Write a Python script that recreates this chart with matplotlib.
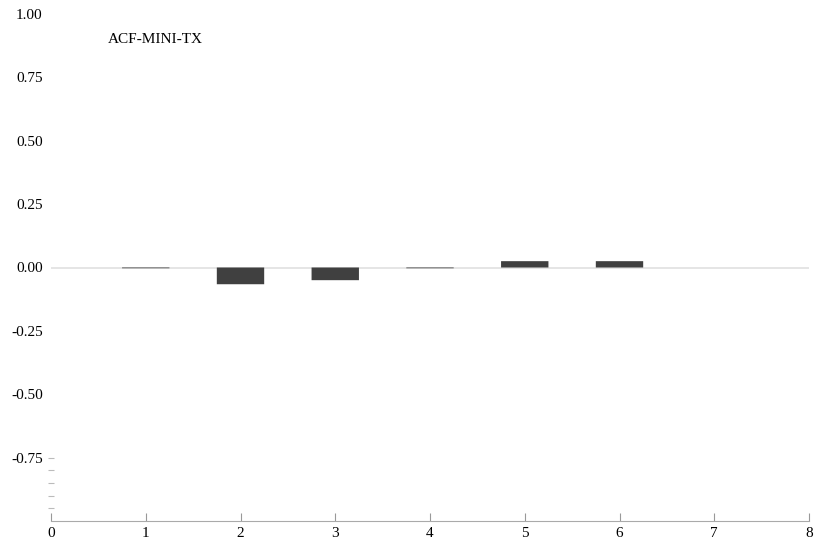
import numpy as np
import matplotlib.pyplot as plt

# ============================== DATA ==============================
lags = [1, 2, 3, 4, 5, 6, 7]
acf = [-0.003, -0.066, -0.050, -0.003, 0.025, 0.025, 0.0]
title = 'ACF-MINI-TX'
yticks = [1.0, 0.75, 0.5, 0.25, 0.0, -0.25, -0.5, -0.75]
yminor = [-0.75, -0.8, -0.85, -0.9, -0.95]
xticks = [0, 1, 2, 3, 4, 5, 6, 7, 8]

# ============================== PLOT ==============================
plt.rcParams['font.family'] = ['Liberation Serif', 'DejaVu Serif']
plt.rcParams['font.size'] = 11

fig = plt.figure(figsize=(8.14, 5.43), dpi=100)
ax = fig.add_axes([51/814, 22/543, 758/814, 507/543])

ax.axhline(0, color='#e0e0e0', lw=1.2, zorder=1)
ax.bar(lags, acf, width=0.5, color='#404040', zorder=2, snap=False)

ax.set_xlim(0, 8)
ax.set_ylim(-1, 1)

for s in ['top', 'right', 'left']:
    ax.spines[s].set_visible(False)
ax.spines['bottom'].set_color('#aaaaaa')

ax.set_xticks(xticks)
ax.set_xticklabels([str(t) for t in xticks])
ax.tick_params(axis='x', direction='in', length=6, color='#999999', pad=4)
ax.xaxis.get_major_ticks()[0].tick1line.set_color('black')

ax.yaxis.remove_overlapping_locs = False
ax.set_yticks(yticks)
ax.set_yticklabels(['%.2f' % t for t in yticks])
ax.tick_params(axis='y', length=0, pad=6)
ax.set_yticks(yminor, minor=True)
ax.tick_params(axis='y', which='minor', direction='inout', length=4, color='#bbbbbb', width=0.8)

ax.text(0.6, 0.9, title, ha='left', va='center', fontsize=11)

fig.savefig('out.png', dpi=100)
